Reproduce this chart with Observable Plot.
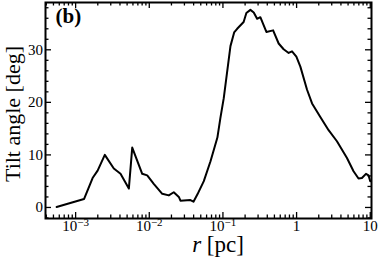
<!DOCTYPE html>
<html>
<head>
<meta charset="utf-8">
<script src="https://cdn.jsdelivr.net/npm/d3@7"></script>
<script src="https://cdn.jsdelivr.net/npm/@observablehq/plot@0.6"></script>
<style>
  html, body { margin: 0; padding: 0; background: #fff; }
  svg { display: block; }
</style>
</head>
<body>
<div id="chart"></div>
<script>
// Radius r [pc] and tilt angle [deg]
const rValues = [
  5.52e-4, 1.30e-3, 1.70e-3, 1.99e-3, 2.49e-3, 3.30e-3, 4.07e-3, 5.28e-3, 5.87e-3,
  8.02e-3, 9.38e-3, 1.15e-2, 1.50e-2, 1.84e-2, 2.15e-2, 2.52e-2, 2.65e-2, 3.62e-2,
  3.98e-2, 4.51e-2, 5.50e-2, 6.78e-2, 8.41e-2, 9.23e-2, 0.1026, 0.1265, 0.142, 0.156,
  0.191, 0.208, 0.236, 0.262, 0.291, 0.322, 0.389, 0.480, 0.571, 0.667, 0.780, 0.867,
  0.993, 1.125, 1.387, 1.622, 2.10, 2.72, 3.53, 4.83, 5.93, 6.93, 7.71, 8.75, 9.48, 10.0
];
const tiltValues = [
  0.1, 1.6, 5.6, 7.0, 10.0, 7.4, 6.4, 3.6, 11.4,
  6.4, 6.1, 4.5, 2.6, 2.3, 2.9, 2.0, 1.3, 1.4,
  1.1, 2.5, 5.0, 8.8, 13.3, 17.0, 20.8, 30.7, 33.3, 34.0,
  35.3, 37.0, 37.6, 37.1, 35.9, 36.2, 33.4, 33.7, 31.2, 30.1, 29.4, 29.7,
  28.7, 26.8, 22.4, 19.8, 17.2, 14.7, 12.6, 9.4, 6.9, 5.5, 5.6, 6.4, 6.1, 5.0
];
const xTickValues = [1e-3, 1e-2, 0.1, 1, 10];
const yTickValues = [0, 10, 20, 30];
const xLabel = "r";
const xUnit = " [pc]";
const yLabel = "Tilt angle [deg]";
const panelLabel = "(b)";

const data = rValues.map((r, i) => ({r, tilt: tiltValues[i]}));

const W = 381, H = 262;
const mL = 45, mR = 10, mT = 2, mB = 44;
const fw = W - mL - mR, fh = H - mT - mB;
const xDomain = [3.9e-4, 10.4];
const yDomain = [-2.1, 39];

const xMinor = d3.scaleLog().domain(xDomain).ticks().filter(t => !xTickValues.some(m => Math.abs(m - t) / m < 1e-9));
const yMinor = d3.range(-2, 40, 2).filter(t => t % 10 !== 0 && t >= yDomain[0] && t <= yDomain[1]);

const fmtX = d => {
  const e = Math.round(Math.log10(d));
  return e < 0 ? "10^" + String(e).replace("-", "\u2212") : String(d);
};

const chart = Plot.plot({
  width: W, height: H,
  marginLeft: mL, marginRight: mR, marginTop: mT, marginBottom: mB,
  style: {fontFamily: "'Liberation Serif', 'Times New Roman', serif", color: "black", background: "white"},
  x: {type: "log", domain: xDomain},
  y: {domain: yDomain},
  marks: [
    // inward ticks: bottom & top
    Plot.tickX(xTickValues, {x: d => d, insetTop: fh - 6, stroke: "black", strokeWidth: 1.3}),
    Plot.tickX(xTickValues, {x: d => d, insetBottom: fh - 6, stroke: "black", strokeWidth: 1.3}),
    Plot.tickX(xMinor, {x: d => d, insetTop: fh - 3.5, stroke: "black", strokeWidth: 1.3}),
    Plot.tickX(xMinor, {x: d => d, insetBottom: fh - 3.5, stroke: "black", strokeWidth: 1.3}),
    // inward ticks: left & right
    Plot.tickY(yTickValues, {y: d => d, insetRight: fw - 6, stroke: "black", strokeWidth: 1.3}),
    Plot.tickY(yTickValues, {y: d => d, insetLeft: fw - 6, stroke: "black", strokeWidth: 1.3}),
    Plot.tickY(yMinor, {y: d => d, insetRight: fw - 3.5, stroke: "black", strokeWidth: 1.3}),
    Plot.tickY(yMinor, {y: d => d, insetLeft: fw - 3.5, stroke: "black", strokeWidth: 1.3}),
    Plot.axisX({ticks: xTickValues, tickSize: 0, tickPadding: 1.5, fontSize: 15, tickFormat: fmtX, label: null}),
    Plot.axisY({ticks: yTickValues, tickSize: 0, tickPadding: 2.5, fontSize: 15, label: null}),
    Plot.line(data, {x: "r", y: "tilt", stroke: "black", strokeWidth: 2, strokeLinejoin: "round"}),
    Plot.frame({stroke: "black", strokeWidth: 2}),
    Plot.text([panelLabel], {frameAnchor: "top-left", dx: 10, dy: 6, fontSize: 21, fontWeight: "bold", lineAnchor: "top", textAnchor: "start"})
  ]
});

document.getElementById("chart").appendChild(chart);

const svg = d3.select(chart);
// superscripts in x tick labels
svg.selectAll('[aria-label="x-axis tick label"] text').each(function() {
  const t = this.textContent;
  if (t.includes("^")) {
    const [base, exp] = t.split("^");
    const el = d3.select(this);
    el.text(null);
    el.append("tspan").text(base);
    el.append("tspan").attr("dy", "-0.42em").attr("font-size", "11px").text(exp);
  }
});
// axis titles
svg.append("text")
  .attr("transform", `translate(20,${mT + fh / 2 + 4}) rotate(-90)`)
  .attr("text-anchor", "middle")
  .attr("font-size", 22)
  .attr("fill", "black")
  .text(yLabel);
const xl = svg.append("text")
  .attr("x", 218).attr("y", 252)
  .attr("text-anchor", "middle")
  .attr("font-size", 23)
  .attr("fill", "black");
xl.append("tspan").attr("font-style", "italic").text(xLabel);
xl.append("tspan").text(xUnit);
</script>
</body>
</html>
